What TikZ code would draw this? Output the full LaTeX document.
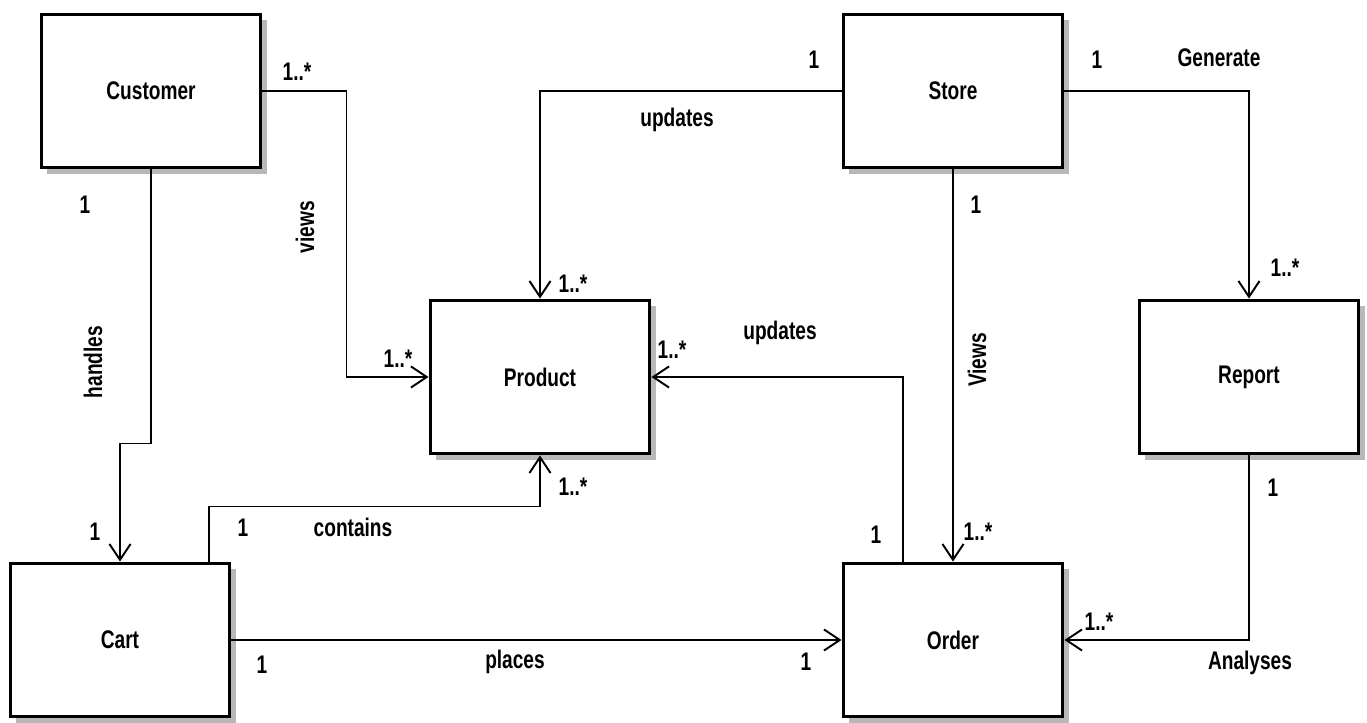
\documentclass[tikz,border=0pt]{standalone}
\usepackage{fontspec}
\setmainfont{Liberation Sans}[FakeStretch=0.75]
\usepackage{tikz}
\usetikzlibrary{arrows.meta, positioning, shadows}

\begin{document}
\begin{tikzpicture}[
    x=0.02cm, y=-0.02cm,
    classbox/.style={rectangle, draw, line width=1.7pt, fill=white, minimum width=4.4cm, minimum height=3.08cm, font=\fontsize{14.5}{16}\selectfont\bfseries, drop shadow={shadow xshift=3.5pt, shadow yshift=-3.5pt, fill=black!28, opacity=1}},
    assoc/.style={line width=1.1pt, -{Straight Barb[length=9pt, width=12pt, line width=1.1pt]}},
    mult/.style={font=\fontsize{14.5}{16}\selectfont\bfseries, inner sep=1pt}
]
    \useasboundingbox (0,0) rectangle (1367,723);

    % classes
    \node (customer) [classbox] at (151,91) {Customer};
    \node (store) [classbox] at (953,91) {Store};
    \node (product) [classbox] at (540,377) {Product};
    \node (report) [classbox] at (1249,377) {Report};
    \node (cart) [classbox] at (120,640) {Cart};
    \node (order) [classbox] at (953,640) {Order};

    % associations
    \draw [assoc] (customer.south) -- ++(0,274) -| (cart.north);
    \draw [assoc] (customer.east) -- ++(84,0) |- (product.west);
    \draw [assoc] (store.west) -| (product.north);
    \draw [assoc] (store.east) -| (report.north);
    \draw [assoc] (store.south) -- (order.north);
    \draw [assoc] ([xshift=-1cm]order.north) |- (product.east);
    \draw [assoc] ([xshift=1.78cm]cart.north) -- ++(0,-55) -| (product.south);
    \draw [assoc] (cart.east) -- (order.west);
    \draw [assoc] (report.south) |- (order.east);

    % labels and multiplicities
    \node (m1) [mult] at (85,205) {1};
    \node (m2) [mult] at (95,532) {1};
    \node (lhandles) [mult, rotate=90] at (93,362) {handles};
    \node (m3) [mult] at (297,72) {1..*};
    \node (lviews) [mult, rotate=90] at (305,227) {views};
    \node (m4) [mult] at (398,359) {1..*};
    \node (m5) [mult] at (814,60) {1};
    \node (lupd1) [mult] at (677,120) {updates};
    \node (m6) [mult] at (573,284) {1..*};
    \node (m7) [mult] at (1097,60) {1};
    \node (lgen) [mult] at (1219,58) {Generate};
    \node (m8) [mult] at (1285,268) {1..*};
    \node (m9) [mult] at (976,205) {1};
    \node (lviews2) [mult, rotate=90] at (977,360) {Views};
    \node (m10) [mult] at (978,532) {1..*};
    \node (m11) [mult] at (876,535) {1};
    \node (lupd2) [mult] at (780,333) {updates};
    \node (m12) [mult] at (672,350) {1..*};
    \node (m13) [mult] at (243,528) {1};
    \node (lcont) [mult] at (353,527) {contains};
    \node (m14) [mult] at (573,487) {1..*};
    \node (m15) [mult] at (262,665) {1};
    \node (lplaces) [mult] at (515,662) {places};
    \node (m16) [mult] at (806,662) {1};
    \node (m17) [mult] at (1273,488) {1};
    \node (m18) [mult] at (1099,622) {1..*};
    \node (lanal) [mult] at (1250,663) {Analyses};
\end{tikzpicture}
\end{document}
